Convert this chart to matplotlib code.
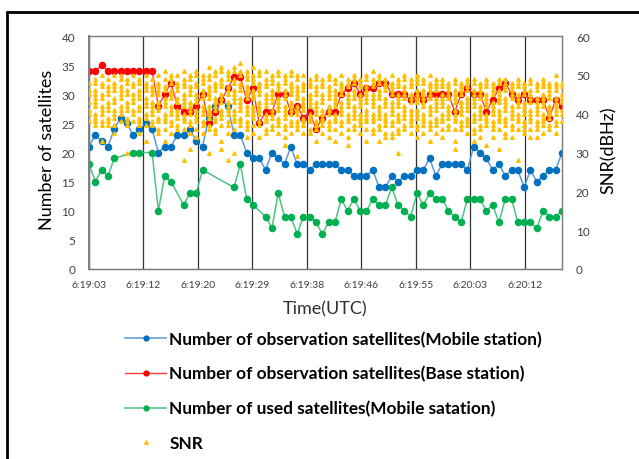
import matplotlib
matplotlib.use('Agg')
import matplotlib.pyplot as plt
from matplotlib.lines import Line2D
from matplotlib.patches import Rectangle
import numpy as np

# seconds after 6:19:03, one sample per second
t = list(range(76))

# Number of observation satellites (Mobile station)
mobile_obs = [21, 23, 22, 21, 24, 26, 25, 23, 24, 25, 24, 20, 21, 21, 23, 23, 24, 22, 21, 26,
              28, 29, 28, 23, 23, 20, 19, 19, 17, 20, 19, 18, 21, 18, 18, 17, 18, 18, 18, 18,
              17, 17, 16, 16, 16, 17, 14, 14, 16, 15, 16, 16, 17, 17, 19, 16, 18, 18, 18, 18,
              17, 21, 20, 19, 17, 18, 16, 17, 17, 14, 17, 15, 16, 17, 17, 20]

# Number of observation satellites (Base station)
base_obs = [34, 34, 35, 34, 34, 34, 34, 34, 34, 34, 34, 28, 30, 32, 28, 27, 27, 28, 30, 25,
            27, 29, 31, 33, 33, 29, 31, 25, 27, 27, 30, 30, 27, 28, 26, 27, 24, 26, 27, 27,
            30, 31, 32, 30, 31, 31, 32, 32, 30, 30, 30, 29, 30, 29, 30, 30, 30, 30, 27, 30,
            31, 30, 30, 27, 29, 31, 32, 30, 29, 30, 29, 29, 29, 26, 29, 28]

# Number of used satellites (Mobile station), None = no solution that second
mobile_used = [18, 15, 17, 16, 19, None, None, 20, 20, None, 20, 10, 16, 15, None, 11, 13, 13, 17, None,
               None, None, None, 14, 18, 12, 11, None, 9, 7, 13, 9, 9, 6, 9, 9, 8, 6, 8, 8,
               12, 10, 12, 10, 10, 12, 11, 11, 14, 11, 10, 9, 13, 11, 13, 12, 12, 10, 9, 8,
               12, 12, 12, 10, 11, 8, 12, 12, 8, 8, 8, 7, 10, 9, 9, 10]

# SNR (dBHz) of every tracked satellite, one list per second
snr = [
    [48, 46, 45, 43, 41, 40, 38],
    [49, 48, 46, 45, 44, 43, 42, 40, 39, 38, 37],
    [50, 48, 47, 45, 44, 42, 41, 40, 38, 37, 33],
    [49, 47, 46, 45, 43, 42, 41, 39, 38, 37],
    [50, 48, 47, 46, 44, 43, 41, 40, 39, 37, 35],
    [50, 49, 47, 46, 45, 44, 42, 41, 40, 38],
    [49, 48, 46, 45, 43, 42, 41, 39, 38, 37, 30],
    [50, 48, 47, 45, 44, 43, 41, 40, 38],
    [49, 48, 46, 45, 44, 42, 41, 39, 38, 37, 35],
    [50, 48, 47, 46, 44, 43, 42, 40, 39, 37, 33],
    [49, 47, 46, 45, 43, 42, 41, 40, 38, 37],
    [50, 48, 47, 46, 45, 43, 42, 41, 39, 38, 36, 35],
    [51, 49, 47, 46, 44, 43, 42, 40, 39, 38, 36, 33],
    [50, 49, 48, 46, 45, 44, 42, 41, 40, 38, 37, 35],
    [50, 48, 47, 46, 44, 43, 41, 40, 39, 37, 36],
    [51, 49, 48, 47, 45, 44, 43, 42, 40, 39, 38, 36, 28],
    [50, 49, 47, 46, 45, 43, 42, 41, 40, 38, 37, 35, 31],
    [51, 50, 48, 47, 45, 44, 43, 41, 40, 39, 38, 36, 34],
    [50, 49, 48, 46, 45, 44, 42, 41, 40, 38, 37, 35],
    [52, 50, 49, 47, 46, 45, 44, 42, 41, 40, 39, 37, 36, 30],
    [51, 50, 48, 47, 46, 44, 43, 42, 41, 39, 38, 36, 35],
    [52, 51, 49, 48, 47, 45, 44, 43, 41, 40, 39, 37, 33, 31],
    [51, 50, 49, 47, 46, 45, 43, 42, 41, 40, 38, 37, 35, 28],
    [52, 51, 49, 48, 46, 45, 44, 43, 41, 40, 39, 38, 36, 30],
    [53, 51, 50, 48, 47, 46, 44, 43, 42, 41, 39, 38, 37],
    [51, 50, 49, 47, 46, 45, 44, 42, 41, 40, 38, 37, 36, 34],
    [52, 50, 49, 48, 46, 45, 44, 42, 41, 40, 39, 37, 35],
    [51, 50, 48, 47, 46, 45, 43, 42, 41, 40, 38, 37, 34],
    [51, 49, 48, 47, 45, 44, 43, 42, 40, 39, 38, 36, 35],
    [50, 49, 48, 46, 45, 44, 43, 41, 40, 39, 37, 36],
    [51, 50, 48, 47, 46, 44, 43, 42, 41, 39, 38, 37, 35],
    [50, 49, 48, 46, 45, 44, 42, 41, 40, 39, 37, 36, 34, 32],
    [51, 50, 48, 47, 46, 45, 43, 42, 41, 40, 38, 37, 35],
    [50, 49, 47, 46, 45, 44, 42, 41, 40, 38, 37, 36, 29],
    [50, 48, 47, 46, 44, 43, 42, 41, 39, 38, 37, 35],
    [49, 48, 47, 45, 44, 43, 42, 40, 39, 38, 36, 35],
    [50, 49, 47, 46, 45, 43, 42, 41, 40, 38, 37, 36, 33],
    [49, 48, 47, 45, 44, 43, 41, 40, 39, 38, 37, 35],
    [50, 49, 47, 46, 45, 44, 42, 41, 40, 38, 37, 36, 34],
    [49, 48, 46, 45, 44, 43, 42, 40, 39, 38, 36, 33],
    [50, 48, 47, 46, 45, 43, 42, 41, 40, 38, 37, 35],
    [49, 48, 47, 45, 44, 43, 42, 40, 39, 38, 36, 34, 32],
    [50, 49, 48, 46, 45, 44, 42, 41, 40, 39, 37, 36],
    [49, 48, 47, 45, 44, 43, 42, 40, 39, 38, 37, 35],
    [50, 49, 47, 46, 45, 44, 43, 41, 40, 39, 38, 36, 33],
    [51, 49, 48, 47, 45, 44, 43, 42, 40, 39, 38, 36, 35],
    [50, 49, 48, 46, 45, 44, 42, 41, 40, 39, 37, 36, 33],
    [49, 48, 47, 46, 44, 43, 42, 40, 39, 38, 37, 35, 34],
    [50, 48, 47, 46, 45, 43, 42, 41, 40, 38, 37, 35, 34],
    [49, 48, 47, 45, 44, 43, 42, 40, 39, 38, 36, 35, 30],
    [50, 49, 47, 46, 45, 44, 42, 41, 40, 39, 37, 36],
    [49, 48, 47, 45, 44, 43, 41, 40, 39, 38, 37, 35],
    [50, 49, 48, 46, 45, 44, 43, 41, 40, 39, 37, 36, 34],
    [49, 48, 46, 45, 44, 43, 42, 40, 39, 38, 37, 35],
    [50, 48, 47, 46, 45, 44, 42, 41, 40, 38, 37, 36, 33],
    [49, 48, 47, 46, 44, 43, 42, 41, 39, 38, 37, 35],
    [49, 48, 47, 45, 44, 43, 42, 40, 39, 38, 36, 34],
    [48, 47, 46, 45, 44, 42, 41, 40, 39, 37, 36],
    [49, 48, 46, 45, 44, 43, 41, 40, 39, 38, 36, 33, 31],
    [48, 47, 46, 45, 43, 42, 41, 40, 38, 37, 36],
    [49, 48, 47, 46, 44, 43, 42, 41, 39, 38, 37, 35],
    [49, 48, 46, 45, 44, 43, 42, 40, 39, 38, 36, 35, 33],
    [48, 47, 46, 45, 44, 42, 41, 40, 39, 37, 36, 34],
    [49, 48, 47, 45, 44, 43, 42, 40, 39, 38, 37, 32],
    [48, 47, 46, 45, 43, 42, 41, 40, 38, 37, 36, 34],
    [49, 48, 46, 45, 44, 43, 41, 40, 39, 38, 36, 31],
    [49, 48, 47, 46, 44, 43, 42, 41, 39, 38, 37, 35, 34],
    [48, 47, 46, 45, 44, 42, 41, 40, 39, 37, 36, 34],
    [49, 48, 47, 45, 44, 43, 42, 40, 39, 38, 36, 28],
    [48, 47, 46, 45, 43, 42, 41, 40, 38, 37, 36, 35],
    [49, 48, 46, 45, 44, 43, 41, 40, 39, 38, 36, 34],
    [48, 47, 46, 44, 43, 42, 41, 40, 38, 37, 36, 34],
    [49, 48, 47, 45, 44, 43, 42, 40, 39, 38, 37, 35],
    [48, 47, 46, 45, 44, 42, 41, 40, 39, 37, 36],
    [50, 48, 47, 46, 44, 43, 42, 41, 40, 38, 37, 35],
    [48, 47, 45, 44, 43, 41, 40, 38],
]

tick_labels = ['6:19:03', '6:19:12', '6:19:20', '6:19:29', '6:19:38',
               '6:19:46', '6:19:55', '6:20:03', '6:20:12']
major_unit = 8.64  # 0.0001 day, like the Excel time axis

labels = ['Number of observation satellites(Mobile station)',
          'Number of observation satellites(Base station)',
          'Number of used satellites(Mobile satation)',
          'SNR']

plt.rcParams['font.family'] = ['Lato', 'DejaVu Sans']

fig = plt.figure(figsize=(6.39, 4.60), dpi=100)
ax = fig.add_axes([89 / 639, 1 - 270 / 460, 473 / 639, 233 / 460])
ax2 = ax.twinx()

# lines
ax.plot(t, mobile_obs, color='#5B9BD5', lw=1.1, marker='o', ms=4.4,
        mfc='#0070C0', mec='#0070C0', zorder=3)
ax.plot(t, base_obs, color='#FF3B3B', lw=1.0, marker='o', ms=4.4,
        mfc='#FF0000', mec='#FF0000', zorder=3)
used_t = [ti for ti, v in zip(t, mobile_used) if v is not None]
used_v = [v for v in mobile_used if v is not None]
ax.plot(used_t, used_v, color='#4CC482', lw=1.1, marker='o', ms=4.4,
        mfc='#00B050', mec='#00B050', zorder=3)

# SNR triangles on the secondary axis
snr_x = [ti for ti, col in zip(t, snr) for _ in col]
snr_y = [v for col in snr for v in col]
ax2.plot(snr_x, snr_y, ls='none', marker='^', ms=2.6, color='#FFC000',
         mec='#FFC000', zorder=4)

ax.set_xlim(0, 75)
ax.set_ylim(0, 40)
ax2.set_ylim(0, 60)
ax.set_yticks(range(0, 41, 5))
ax2.set_yticks(range(0, 61, 10))
ax.set_xticks([k * major_unit for k in range(len(tick_labels))])
ax.set_xticklabels(tick_labels)

ax.grid(axis='x', color='#333333', lw=0.9)
ax.set_axisbelow(True)

for a in (ax, ax2):
    a.tick_params(length=0, colors='#404040')
    for s in a.spines.values():
        s.set_color('#7f7f7f')
        s.set_linewidth(0.9)
ax.spines['left'].set_linewidth(1.4)
ax.spines['bottom'].set_color('#404040')
ax.tick_params(axis='y', labelsize=8.5, pad=10)
ax.tick_params(axis='x', labelsize=7.5, pad=8)
ax2.tick_params(axis='y', labelsize=8.5, pad=10)

fig.text(47 / 639, 1 - 150 / 460, 'Number of satellites', rotation=90,
         ha='center', va='center', fontsize=13)
fig.text(609 / 639, 1 - 150 / 460, 'SNR(dBHz)', rotation=90,
         ha='center', va='center', fontsize=13)
fig.text(325 / 639, 1 - 309 / 460, 'Time(UTC)', ha='center', va='center',
         fontsize=13, color='#303030')

handles = [
    Line2D([], [], color='#5B9BD5', lw=1.1, marker='o', ms=3.5, mfc='#0070C0', mec='#0070C0'),
    Line2D([], [], color='#FF3B3B', lw=1.0, marker='o', ms=3.5, mfc='#FF0000', mec='#FF0000'),
    Line2D([], [], color='#4CC482', lw=1.1, marker='o', ms=3.5, mfc='#00B050', mec='#00B050'),
    Line2D([], [], ls='none', marker='^', ms=2.6, color='#FFC000'),
]
fig.legend(handles, labels, loc='upper left', bbox_to_anchor=(110 / 639, 1 - 316 / 460),
           frameon=False, handlelength=2.35, handletextpad=0.2, labelspacing=1.08,
           prop={'weight': 'bold', 'size': 12.4})

# outer frame of the chart object
fig.add_artist(Rectangle((7 / 639, -0.2), 1.2, 0.2 + 1 - 13 / 460,
                         transform=fig.transFigure, fill=False, ec='black', lw=2))

fig.savefig('out.png', dpi=100)
